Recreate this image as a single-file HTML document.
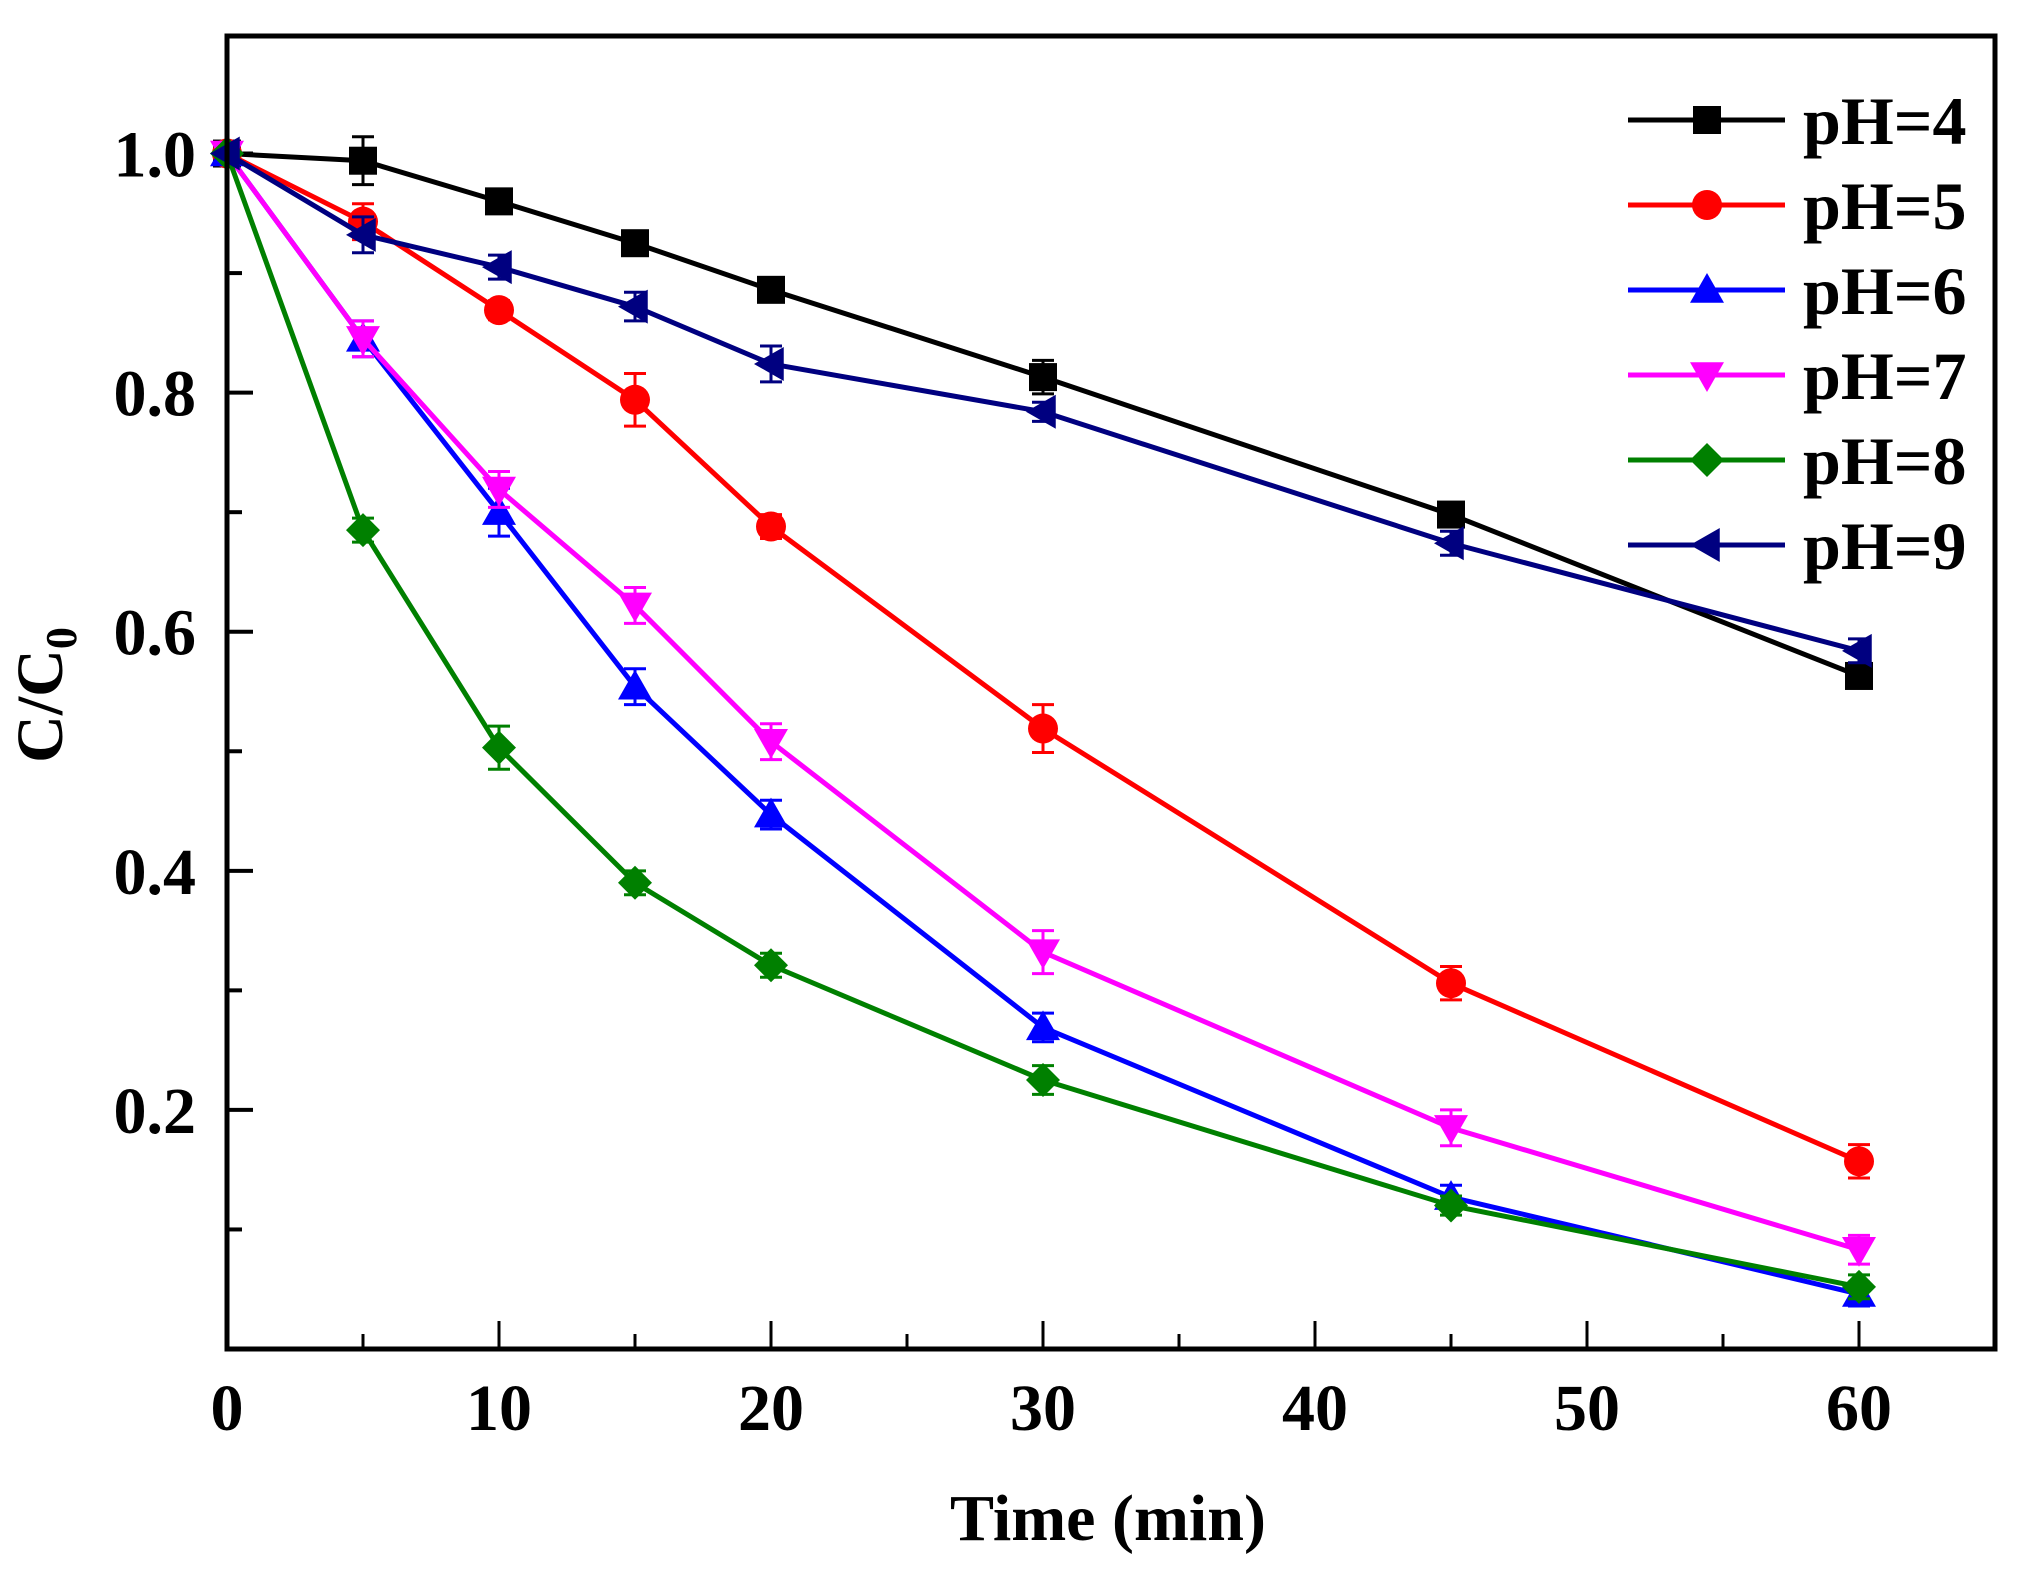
<!DOCTYPE html>
<html><head><meta charset="utf-8"><style>
html,body{margin:0;padding:0;background:#fff;}
svg{display:block;}
text{font-family:"Liberation Serif",serif;font-weight:bold;fill:#000;}
</style></head><body>
<svg id="chart" width="2025" height="1574" viewBox="0 0 2025 1574" xmlns="http://www.w3.org/2000/svg">
<rect x="0" y="0" width="2025" height="1574" fill="#fff"/>
<g id="ticks"></g>
<g id="series"></g>
<rect x="227" y="36" width="1768" height="1313" fill="none" stroke="#000" stroke-width="5"/>
<g id="legend"></g>
<text x="1108" y="1540" font-size="66" text-anchor="middle">Time (min)</text>
<text transform="translate(62,695) rotate(-90)" font-size="66" text-anchor="middle">C/C<tspan font-size="44" dy="14">0</tspan></text>
</svg>
<script>
const times = [0, 5, 10, 15, 20, 30, 45, 60];
const seriesNames = ["pH=4", "pH=5", "pH=6", "pH=7", "pH=8", "pH=9"];
const ph4 = [1.0, 0.994, 0.96, 0.925, 0.886, 0.813, 0.698, 0.563];
const ph5 = [1.0, 0.943, 0.869, 0.794, 0.688, 0.519, 0.306, 0.157];
const ph6 = [1.0, 0.845, 0.70, 0.554, 0.447, 0.269, 0.127, 0.046];
const ph7 = [1.0, 0.845, 0.719, 0.622, 0.508, 0.332, 0.185, 0.083];
const ph8 = [1.0, 0.685, 0.503, 0.39, 0.321, 0.225, 0.12, 0.052];
const ph9 = [1.0, 0.932, 0.905, 0.872, 0.824, 0.784, 0.674, 0.584];
const err4 = [0, 0.02, 0.008, 0.008, 0.01, 0.014, 0.01, 0.01];
const err5 = [0, 0.015, 0.008, 0.022, 0.01, 0.02, 0.014, 0.014];
const err6 = [0, 0.015, 0.02, 0.015, 0.012, 0.012, 0.01, 0.01];
const err7 = [0, 0.015, 0.015, 0.015, 0.015, 0.018, 0.015, 0.012];
const err8 = [0, 0.01, 0.018, 0.01, 0.01, 0.012, 0.008, 0.01];
const err9 = [0, 0.015, 0.01, 0.012, 0.015, 0.008, 0.01, 0.01];
const xTickLabels = ["0", "10", "20", "30", "40", "50", "60"];
const yTickLabels = ["0.2", "0.4", "0.6", "0.8", "1.0"];

const NS = "http://www.w3.org/2000/svg";
const X0 = 227, X1 = 1995, Y0 = 1349, Y1 = 34;
const xMin = 0, xMax = 65, yMin = 0, yMax = 1.1;
function xs(v){ return X0 + (v - xMin) / (xMax - xMin) * (X1 - X0); }
function ys(v){ return Y0 - (v - yMin) / (yMax - yMin) * (Y0 - Y1); }
function mk(tag, attrs, parent){
  const e = document.createElementNS(NS, tag);
  for (const k in attrs) e.setAttribute(k, attrs[k]);
  parent.appendChild(e);
  return e;
}

const ticks = document.getElementById('ticks');
// x ticks
for (let t = 0; t <= 60; t += 5) {
  const major = t % 10 === 0;
  const l = mk('line', {x1: xs(t), x2: xs(t), y1: Y0, y2: Y0 - (major ? 28 : 15), stroke: '#000', 'stroke-width': 3}, ticks);
  
  
}
xTickLabels.forEach(s => {
  const v = parseFloat(s);
  const t = mk('text', {x: xs(v), y: 1430, 'font-size': 66, 'text-anchor': 'middle'}, ticks);
  t.textContent = s;
  
  
});
// y ticks
for (let i = 1; i <= 10; i++) {
  const v = i / 10;
  const major = i % 2 === 0;
  const l = mk('line', {x1: X0, x2: X0 + (major ? 26 : 15), y1: ys(v), y2: ys(v), stroke: '#000', 'stroke-width': 4}, ticks);
  
  
}
yTickLabels.forEach(s => {
  const v = parseFloat(s);
  const t = mk('text', {x: 196, y: ys(v) + 23, 'font-size': 66, 'text-anchor': 'end'}, ticks);
  t.textContent = s;
  
  
});

const colors = ['#000000', '#ff0000', '#0000ff', '#ff00ff', '#008000', '#000080'];
const shapes = ['square', 'circle', 'up', 'down', 'diamond', 'left'];
const values = [ph4, ph5, ph6, ph7, ph8, ph9];
const errs = [err4, err5, err6, err7, err8, err9];

function marker(shape, cx, cy, color, parent, name){
  const r = 14;
  let e;
  if (shape === 'square') e = mk('rect', {x: cx - r, y: cy - r, width: 2*r, height: 2*r, fill: color}, parent);
  else if (shape === 'circle') e = mk('circle', {cx: cx, cy: cy, r: r + 1, fill: color}, parent);
  else {
    let p;
    const s = r + 3;
    if (shape === 'up') p = [[cx, cy - s], [cx + s, cy + s*0.75], [cx - s, cy + s*0.75]];
    else if (shape === 'down') p = [[cx, cy + s], [cx + s, cy - s*0.75], [cx - s, cy - s*0.75]];
    else if (shape === 'diamond') p = [[cx, cy - s], [cx + s, cy], [cx, cy + s], [cx - s, cy]];
    else p = [[cx - s, cy], [cx + s*0.75, cy - s], [cx + s*0.75, cy + s]];
    e = mk('polygon', {points: p.map(q => q.join(',')).join(' '), fill: color}, parent);
  }
  
  
}

const sg = document.getElementById('series');
values.forEach((vals, si) => {
  const g = mk('g', {}, sg);
  
  
  const pts = vals.map((v, i) => xs(times[i]) + ',' + ys(v)).join(' ');
  const pl = mk('polyline', {points: pts, fill: 'none', stroke: colors[si], 'stroke-width': 5, 'stroke-linejoin': 'round'}, g);
  
  
  vals.forEach((v, i) => {
    const e = errs[si][i];
    if (e > 0) {
      const x = xs(times[i]);
      const eb = mk('path', {d: `M${x},${ys(v+e)}V${ys(v-e)}M${x-11},${ys(v+e)}H${x+11}M${x-11},${ys(v-e)}H${x+11}`, stroke: colors[si], 'stroke-width': 3, fill: 'none'}, g);
      
      
    }
    marker(shapes[si], xs(times[i]), ys(v), colors[si], g, 'data-point');
  });
});

const lg = document.getElementById('legend');
seriesNames.forEach((n, i) => {
  const y = 120 + i * 85;
  const g = mk('g', {}, lg);
  
  
  const l = mk('line', {x1: 1628, x2: 1785, y1: y, y2: y, stroke: colors[i], 'stroke-width': 5}, g);
  
  
  marker(shapes[i], 1707, y, colors[i], g, 'legend-marker');
  const t = mk('text', {x: 1803, y: y + 24, 'font-size': 68}, g);
  t.textContent = n;
  
  
});
</script>
</body></html>
